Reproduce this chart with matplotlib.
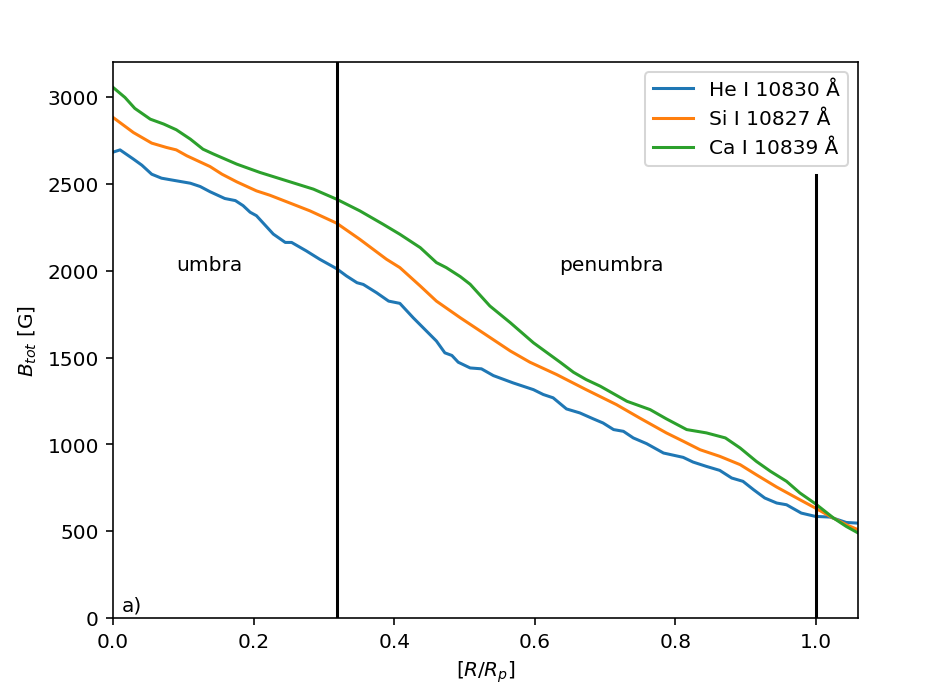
import matplotlib
matplotlib.use("Agg")
import matplotlib.pyplot as plt
import numpy as np

# He I 10830
he_x = [0.0, 0.010, 0.029, 0.041, 0.055, 0.069, 0.083, 0.110, 0.124, 0.138, 0.159, 0.174,
        0.185, 0.195, 0.204, 0.228, 0.245, 0.254, 0.275, 0.294, 0.318, 0.332, 0.347, 0.356,
        0.375, 0.392, 0.408, 0.427, 0.460, 0.472, 0.482, 0.491, 0.508, 0.524, 0.541, 0.569,
        0.598, 0.612, 0.626, 0.645, 0.664, 0.683, 0.697, 0.712, 0.726, 0.740, 0.759, 0.783,
        0.811, 0.825, 0.844, 0.863, 0.880, 0.896, 0.911, 0.927, 0.944, 0.958, 0.979, 0.999,
        1.020, 1.043, 1.060]
he_y = [2683, 2696, 2643, 2608, 2556, 2533, 2523, 2504, 2485, 2455, 2416, 2404,
        2375, 2337, 2317, 2211, 2163, 2163, 2114, 2066, 2012, 1970, 1931, 1921,
        1873, 1825, 1812, 1729, 1595, 1527, 1512, 1473, 1440, 1435, 1396, 1354,
        1315, 1287, 1268, 1204, 1181, 1147, 1123, 1085, 1075, 1037, 1004, 950,
        925, 898, 873, 850, 806, 787, 739, 691, 662, 652, 604, 585,
        581, 550, 546]

# Si I 10827
si_x = [0.0, 0.029, 0.055, 0.076, 0.090, 0.105, 0.138, 0.155, 0.176, 0.204, 0.223, 0.256,
        0.280, 0.318, 0.351, 0.389, 0.408, 0.437, 0.460, 0.494, 0.526, 0.565, 0.593, 0.631,
        0.673, 0.716, 0.749, 0.787, 0.811, 0.835, 0.863, 0.892, 0.915, 0.944, 0.977, 0.999,
        1.020, 1.043, 1.060]
si_y = [2883, 2796, 2735, 2710, 2696, 2662, 2600, 2556, 2512, 2460, 2435, 2383,
        2345, 2274, 2181, 2066, 2018, 1912, 1825, 1729, 1643, 1538, 1473, 1402,
        1315, 1229, 1152, 1066, 1018, 969, 931, 883, 825, 754, 681, 633,
        585, 537, 508]

# Ca I 10839
ca_x = [0.0, 0.017, 0.031, 0.053, 0.072, 0.090, 0.110, 0.128, 0.143, 0.176, 0.209, 0.247,
        0.285, 0.318, 0.351, 0.384, 0.408, 0.437, 0.460, 0.474, 0.494, 0.508, 0.536, 0.565,
        0.598, 0.636, 0.655, 0.673, 0.693, 0.731, 0.764, 0.787, 0.816, 0.844, 0.871, 0.892,
        0.915, 0.935, 0.958, 0.977, 0.999, 1.025, 1.043, 1.060]
ca_y = [3056, 2998, 2935, 2873, 2845, 2812, 2758, 2700, 2672, 2614, 2566, 2518,
        2470, 2412, 2345, 2268, 2210, 2133, 2047, 2018, 1966, 1922, 1797, 1701,
        1585, 1473, 1415, 1373, 1335, 1248, 1200, 1147, 1085, 1066, 1037, 979,
        902, 845, 787, 720, 658, 575, 527, 489]

labels = ["He I 10830 Å", "Si I 10827 Å", "Ca I 10839 Å"]

fig = plt.figure(figsize=(6.4, 4.8), dpi=145.35)
ax = fig.add_axes([0.1215, 0.1133, 0.9226 - 0.1215, 0.9096 - 0.1133])

ax.plot(he_x, he_y, label=labels[0])
ax.plot(si_x, si_y, label=labels[1])
ax.plot(ca_x, ca_y, label=labels[2])

ax.axvline(0.318, color="k", lw=1.5)
ax.plot([1.0, 1.0], [0, 2550], color="k", lw=1.5)

ax.text(0.09, 2000, "umbra")
ax.text(0.635, 2000, "penumbra")
ax.text(0.012, 40, "a)")

ax.set_xlim(0, 1.06)
ax.set_ylim(0, 3200)
ax.set_xlabel("$[R/R_p]$")
ax.set_ylabel("$B_{tot}$ [G]")
ax.legend(loc="upper right")

fig.savefig("out.png", dpi=145.35)
